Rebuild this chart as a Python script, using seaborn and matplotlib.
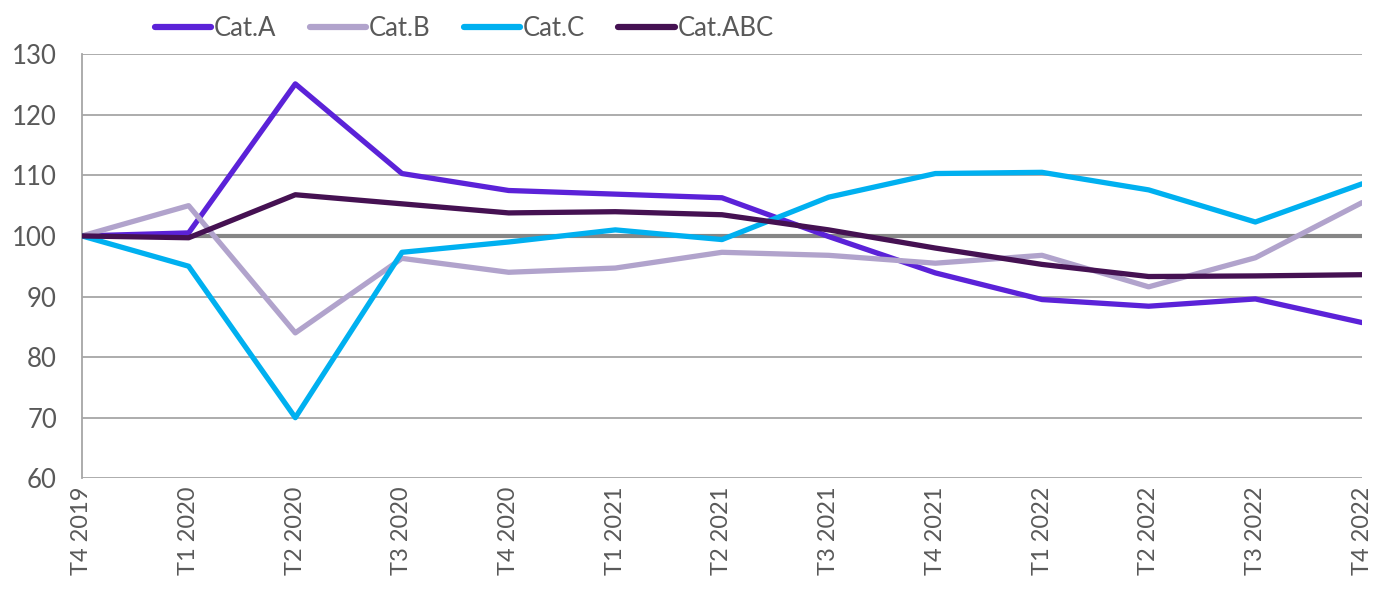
import matplotlib
matplotlib.use("Agg")
import matplotlib.pyplot as plt
import seaborn as sns
import pandas as pd

quarters = ["T4 2019", "T1 2020", "T2 2020", "T3 2020", "T4 2020", "T1 2021", "T2 2021",
            "T3 2021", "T4 2021", "T1 2022", "T2 2022", "T3 2022", "T4 2022"]
cat_a = [100, 100.5, 125.1, 110.3, 107.5, 106.9, 106.3, 99.9, 93.9, 89.5, 88.4, 89.6, 85.7]
cat_b = [100, 105.0, 84.0, 96.3, 94.0, 94.7, 97.3, 96.8, 95.5, 96.8, 91.6, 96.4, 105.5]
cat_c = [100, 95.0, 70.0, 97.3, 99.0, 101.0, 99.4, 106.4, 110.3, 110.5, 107.6, 102.3, 108.6]
cat_abc = [100, 99.7, 106.8, 105.3, 103.8, 104.0, 103.5, 101.0, 98.0, 95.3, 93.3, 93.4, 93.6]
series_names = ["Cat.A", "Cat.B", "Cat.C", "Cat.ABC"]
colors = ["#5B22D8", "#B1A3CC", "#00B0F0", "#451152"]
yticks = [60, 70, 80, 90, 100, 110, 120, 130]

df = pd.DataFrame({"quarter": quarters, "Cat.A": cat_a, "Cat.B": cat_b,
                   "Cat.C": cat_c, "Cat.ABC": cat_abc})
df["x"] = range(len(quarters))
long = df.melt(id_vars=["quarter", "x"], value_vars=series_names,
               var_name="serie", value_name="valeur")

sns.set_theme(style="white")
plt.rcParams["font.family"] = ["Lato", "DejaVu Sans"]

fig = plt.figure(figsize=(13.73, 5.89), dpi=100)
ax = fig.add_axes([0.0597, 0.188, 0.9323, 0.720])

for v in yticks:
    if v != 100:
        ax.axhline(v, color="#A6A6A6", lw=1.3, zorder=0)
ax.axhline(100, color="#868686", lw=3.0, zorder=1)

sns.lineplot(data=long, x="x", y="valeur", hue="serie", hue_order=series_names,
             palette=colors, linewidth=3.8, ax=ax, legend=True, zorder=3)

ax.set_xlim(0, len(quarters) - 1)
ax.set_ylim(60, 130)
ax.set_yticks(yticks)
ax.set_yticklabels([str(v) for v in yticks], fontsize=18.5, color="#595959")
ax.set_xticks(range(len(quarters)))
ax.set_xticklabels(quarters, rotation=90, fontsize=17, color="#595959", va="top")
ax.tick_params(axis="x", length=0, pad=6)
ax.tick_params(axis="y", length=0, pad=18)
ax.set_xlabel("")
ax.set_ylabel("")
for s in ["top", "right", "bottom"]:
    ax.spines[s].set_visible(False)
ax.spines["left"].set_color("#A6A6A6")
ax.spines["left"].set_linewidth(1.3)

handles, labels = ax.get_legend_handles_labels()
ax.legend_.remove()
leg = fig.legend(handles, labels, loc="center", bbox_to_anchor=(0.338, 0.951),
                 ncol=4, frameon=False, fontsize=18.5, handlelength=2.2,
                 handletextpad=0.1, columnspacing=1.3, labelcolor="#595959")
for h in leg.get_lines():
    h.set_linewidth(4.5)
    h.set_solid_capstyle("round")

fig.savefig("out.png", dpi=100)
